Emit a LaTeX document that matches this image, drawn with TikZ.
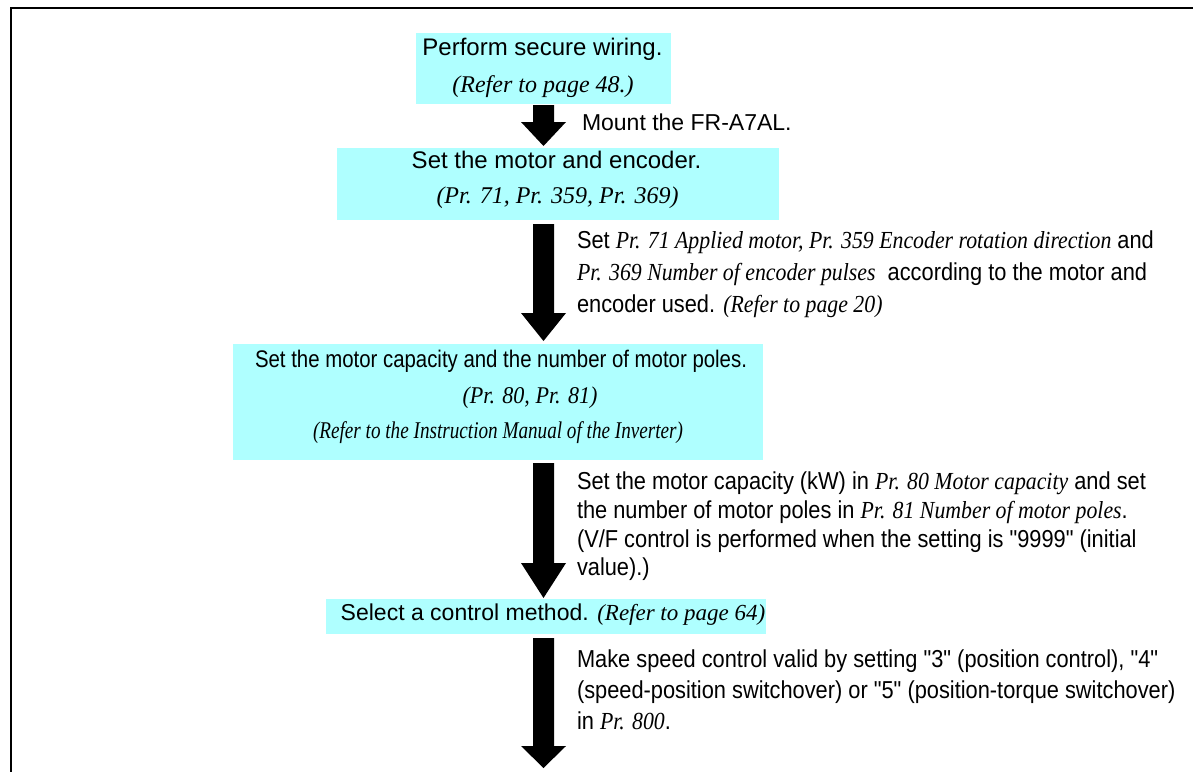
\documentclass[tikz,border=0pt]{standalone}
\usepackage{fontspec}
\usepackage{graphicx}
\setmainfont{Liberation Sans}
\newfontfamily\tms{Liberation Serif}
\newfontfamily\sansS{Liberation Sans}[FakeStretch=0.89]
\newfontfamily\tmsS{Liberation Serif}[FakeStretch=0.89]
\usetikzlibrary{calc}
\definecolor{boxcyan}{RGB}{175,255,255}
\newcommand\ia[1]{{\tms\itshape #1}}
\newcommand\is[1]{{\tmsS\itshape #1}}
\newcommand\fitw[2]{\resizebox{#1}{\height}{#2}}
\newcommand\bigarrow[3]{\fill[arrowfill] ($(#1)+(-10.5,0)$) -- ($(#2)+(-10.5,-#3)$) -- ($(#2)+(-22.5,-#3)$) -- (#2) -- ($(#2)+(22.5,-#3)$) -- ($(#2)+(10.5,-#3)$) -- ($(#1)+(10.5,0)$) -- cycle;}
\begin{document}
\begin{tikzpicture}[x=1pt,y=-1pt,
  box/.style={fill=boxcyan, draw=none, inner sep=0pt, outer sep=0pt, anchor=north west},
  txt/.style={inner sep=0pt, outer sep=0pt, font=\fontsize{23}{23}\selectfont},
  boxtxt/.style={txt, anchor=base, font=\fontsize{24}{24}\selectfont},
  sidetxt/.style={txt, anchor=base west, font=\sansS\fontsize{24.5}{24.5}\selectfont},
  arrowfill/.style={fill=black},
  frameline/.style={line width=2pt, line cap=rect}]
\useasboundingbox (0,0) rectangle (1193,771);
% frame
\coordinate (fbl) at (11,772);
\coordinate (ftl) at (11,8);
\coordinate (ftr) at (1194,8);
\draw[frameline] (fbl) -- (ftl) -- (ftr);
% boxes
\node[box, minimum width=255pt, minimum height=71pt] (b1) at (416,33) {};
\node[box, minimum width=442pt, minimum height=72pt] (b2) at (337,148) {};
\node[box, minimum width=530pt, minimum height=116pt] (b3) at (233,344) {};
\node[box, minimum width=440pt, minimum height=35pt] (b4) at (326,599) {};
% box texts
\node[boxtxt] (t1a) at (542.5,55) {Perform secure wiring.};
\node[boxtxt] (t1b) at (543,92) {\ia{(Refer to page 48.)}};
\node[boxtxt] (t2a) at (556.5,168) {Set the motor and encoder.};
\node[boxtxt] (t2b) at (557.5,203) {\ia{(Pr. 71, Pr. 359, Pr. 369)}};
\node[boxtxt] (t3a) at (501,367) {\fitw{492pt}{Set the motor capacity and the number of motor poles.}};
\node[boxtxt] (t3b) at (530,403) {\fitw{135pt}{\ia{(Pr. 80, Pr. 81)}}};
\node[boxtxt] (t3c) at (498,438) {\fitw{370pt}{\ia{(Refer to the Instruction Manual of the Inverter)}}};
\node[boxtxt, font=\fontsize{23}{23}\selectfont] (t4a) at (553,620) {Select a control method. \ia{(Refer to page 64)}};
% arrows
\coordinate (ax) at (543.5,0);
\path (b1.south -| ax) ++(0,1) coordinate (a1s);
\path (b2.north -| ax) ++(0,-2) coordinate (a1e);
\path (b2.south -| ax) ++(0,4) coordinate (a2s);
\path (b3.north -| ax) ++(0,-3) coordinate (a2e);
\path (b3.south -| ax) ++(0,3) coordinate (a3s);
\path (b4.north -| ax) ++(0,-1) coordinate (a3e);
\path (b4.south -| ax) ++(0,4) coordinate (a4s);
\coordinate (a4e) at (543.5,768);
\bigarrow{a1s}{a1e}{24}
\bigarrow{a2s}{a2e}{28}
\bigarrow{a3s}{a3e}{35}
\bigarrow{a4s}{a4e}{22}
% side texts
\node[txt, anchor=base west] (m1) at (582,130) {Mount the FR-A7AL.};
\node[sidetxt] (s1a) at (577,248) {Set \is{Pr. 71 Applied motor, Pr. 359 Encoder rotation direction} and};
\node[sidetxt] (s1b) at (577,280) {\is{Pr. 369 Number of encoder pulses}\ \ according to the motor and};
\node[sidetxt] (s1c) at (577,312) {encoder used. \is{(Refer to page 20)}};
\node[sidetxt] (s2a) at (577,489) {Set the motor capacity (kW) in \is{Pr. 80 Motor capacity} and set};
\node[sidetxt] (s2b) at (577,518) {the number of motor poles in \is{Pr. 81 Number of motor poles}.};
\node[sidetxt] (s2c) at (577,547) {(V/F control is performed when the setting is "9999" (initial};
\node[sidetxt] (s2d) at (577,575) {value).)};
\node[sidetxt] (s3a) at (577,667) {Make speed control valid by setting "3" (position control), "4"};
\node[sidetxt] (s3b) at (577,698) {(speed-position switchover) or "5" (position-torque switchover)};
\node[sidetxt] (s3c) at (577,729) {in \is{Pr. 800}.};
\end{tikzpicture}
\end{document}
